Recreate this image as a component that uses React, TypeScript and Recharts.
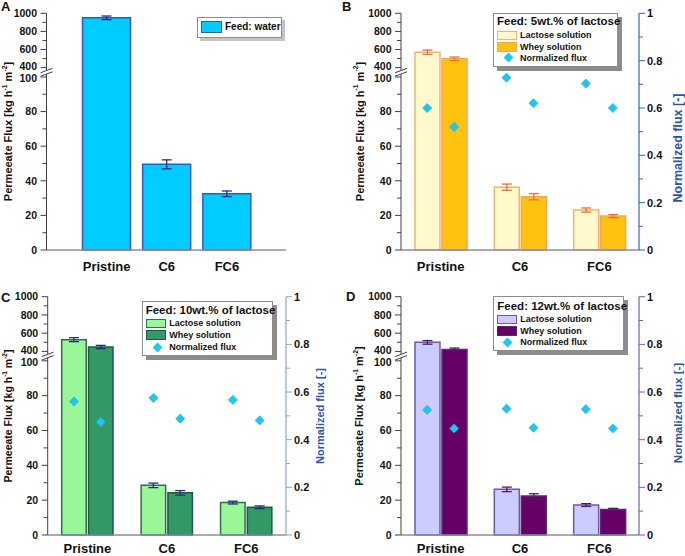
import React from 'react'
import { ComposedChart, Bar, Line, XAxis, YAxis, ErrorBar } from 'recharts'

const categories = ['Pristine', 'C6', 'FC6']

// A: pure water
const waterFlux = [950, 49.5, 32.5]
const waterErr = [20, 2.6, 1.6]

// B: 5 wt.% lactose
const lac5Flux = [570, 36.3, 23.1]
const lac5Err = [24, 1.8, 1.2]
const whey5Flux = [497, 30.8, 19.6]
const whey5Err = [20, 1.8, 0.9]
const lac5Norm = [0.6, 0.728, 0.703]
const whey5Norm = [0.52, 0.62, 0.6]

// C: 10 wt.% lactose
const lac10Flux = [529, 28.5, 18.6]
const lac10Err = [22, 1.3, 0.8]
const whey10Flux = [448, 24.2, 15.9]
const whey10Err = [18, 1.3, 0.8]
const lac10Norm = [0.56, 0.575, 0.567]
const whey10Norm = [0.474, 0.488, 0.481]

// D: 12 wt.% lactose
const lac12Flux = [499, 26.2, 17.2]
const lac12Err = [20, 1.3, 0.8]
const whey12Flux = [422, 22.4, 14.7]
const whey12Err = [15, 1.3, 0.6]
const lac12Norm = [0.525, 0.53, 0.528]
const whey12Norm = [0.447, 0.45, 0.447]

// tick labels
const lowMajor = [0, 20, 40, 60, 80, 100]
const lowMinor = [10, 30, 50, 70, 90]
const highMajor = [400, 600, 800, 1000]
const highMinor = [500, 700, 900]
const normTicks = [0, 0.1, 0.2, 0.3, 0.4, 0.5, 0.6, 0.7, 0.8, 0.9, 1]

const FONT = '"Liberation Sans", Arial, Helvetica, sans-serif'
const DIAMOND = '#1ec6f2'

// broken axis: 0-100 linear, then a gap, then 400-1000 compressed
const LOW_TOP = 100
const HIGH_BOTTOM = 400
const HIGH_TOP = 1000
const BREAK_GAP = 5.4
const HIGH_SPAN = 31.4
const AXIS_MAX = LOW_TOP + BREAK_GAP + HIGH_SPAN

function toAxis(v: number) {
  if (v <= LOW_TOP) return v
  return LOW_TOP + BREAK_GAP + ((v - HIGH_BOTTOM) * HIGH_SPAN) / (HIGH_TOP - HIGH_BOTTOM)
}

type TickDef = { t: number; kind: 'major' | 'minor' | 'break'; label?: string }

const leftTicks: TickDef[] = [
  ...lowMajor.map((v) => ({ t: toAxis(v), kind: 'major' as const, label: String(v) })),
  ...lowMinor.map((v) => ({ t: toAxis(v), kind: 'minor' as const })),
  ...highMajor.map((v) => ({ t: toAxis(v), kind: 'major' as const, label: String(v) })),
  ...highMinor.map((v) => ({ t: toAxis(v), kind: 'minor' as const })),
  { t: LOW_TOP + BREAK_GAP / 2, kind: 'break' as const },
].sort((a, b) => a.t - b.t)

function LeftTick(props: any) {
  const { x, y, payload } = props
  const d = leftTicks.find((k) => Math.abs(k.t - payload.value) < 1e-6)
  if (!d) return null
  const c = '#404040'
  if (d.kind === 'break') {
    return (
      <g>
        <polygon
          points={`${x - 6},${y + 0.5} ${x + 6},${y - 4} ${x + 6},${y - 0.5} ${x - 6},${y + 4}`}
          fill="#fff"
        />
        <line x1={x - 6} y1={y + 0.5} x2={x + 6} y2={y - 4} stroke={c} strokeWidth={1} />
        <line x1={x - 6} y1={y + 4} x2={x + 6} y2={y - 0.5} stroke={c} strokeWidth={1} />
      </g>
    )
  }
  const major = d.kind === 'major'
  // the 400 / 100 pair sits on each side of the break, nudge them apart a little
  const nudge = d.label === '400' ? -1 : d.label === '100' ? 1 : 0
  return (
    <g>
      <line x1={x} y1={y} x2={x - (major ? 6 : 4)} y2={y} stroke={c} strokeWidth={1} />
      {major && (
        <text
          x={x - 9.5}
          y={y + nudge}
          dy="0.36em"
          textAnchor="end"
          fontSize={10.5}
          fontWeight="bold"
          fontFamily={FONT}
          fill="#111"
        >
          {d.label}
        </text>
      )}
    </g>
  )
}

function RightTick(props: any) {
  const { x, y, payload, color } = props
  const v = payload.value as number
  const major = Math.round(v * 10) % 2 === 0
  const label = v === 0 || v === 1 ? String(v) : v.toFixed(1)
  return (
    <g>
      <line x1={x} y1={y} x2={x + (major ? 6 : 4)} y2={y} stroke={color} strokeWidth={1} />
      {major && (
        <text
          x={x + 8}
          y={y}
          dy="0.36em"
          textAnchor="start"
          fontSize={11}
          fontWeight="bold"
          fontFamily={FONT}
          fill="#111"
        >
          {label}
        </text>
      )}
    </g>
  )
}

function CatTick(props: any) {
  const { x, y, payload, labelDy } = props
  return (
    <text x={x} y={y + labelDy} textAnchor="middle" fontSize={13} fontWeight="bold" fontFamily={FONT} fill="#111">
      {payload.value}
    </text>
  )
}

function LeftTitle(props: any) {
  const { px, py, size } = props
  const sup = size * 0.62
  return (
    <text
      x={px}
      y={py}
      transform={`rotate(-90, ${px}, ${py})`}
      textAnchor="middle"
      dominantBaseline="central"
      fontSize={size}
      fontWeight="bold"
      fontFamily={FONT}
      fill="#111"
    >
      Permeeate Flux [kg h
      <tspan dy={-size * 0.38} fontSize={sup}>-1</tspan>
      <tspan dy={size * 0.38}> m</tspan>
      <tspan dy={-size * 0.38} fontSize={sup}>-2</tspan>
      <tspan dy={size * 0.38}>]</tspan>
    </text>
  )
}

function RightTitle(props: any) {
  const { px, py, size } = props
  return (
    <text
      x={px}
      y={py}
      transform={`rotate(-90, ${px}, ${py})`}
      textAnchor="middle"
      dominantBaseline="central"
      fontSize={size}
      fontWeight="bold"
      fontFamily={FONT}
      fill="#2d55a8"
    >
      Normalized flux [-]
    </text>
  )
}

function diamondDot(dx: number) {
  return (p: any) => {
    if (p.cx == null || p.cy == null) return <g key={`dm-${p.index}`} />
    const cx = p.cx + dx
    const cy = p.cy
    const r = 4.6
    return (
      <path
        key={`dm-${p.index}`}
        d={`M${cx},${cy - r}L${cx + r},${cy}L${cx},${cy + r}L${cx - r},${cy}Z`}
        fill={DIAMOND}
        stroke="#16b0e0"
        strokeWidth={0.6}
      />
    )
  }
}

type SeriesDef = {
  flux: number[]
  err: number[]
  fill: string
  stroke: string
  errColor: string
}

type LegendItem = { label: string; kind: 'rect' | 'diamond'; fill: string; stroke?: string; cy: number; h?: number }

type LegendDef = {
  x: number
  y: number
  w: number
  h: number
  shadow: string
  off: number
  title?: string
  titleY?: number
  titleX?: number
  items: LegendItem[]
  swatchX: number
  swatchW: number
  textX: number
  diamondX: number
  itemSize: number
}

type PanelDef = {
  letter: string
  letterX: number
  letterY: number
  left: number
  top: number
  width: number
  height: number
  marginTop: number
  marginRight: number
  marginBottom: number
  leftAxisWidth: number
  rightAxisWidth?: number
  rightAxisColor?: string
  xAxisHeight: number
  labelDy: number
  padLeft: number
  padRight: number
  barSize: number
  barGap: number
  series: SeriesDef[]
  norms?: number[][]
  leftTitle: { x: number; y: number; size: number }
  rightTitle?: { x: number; y: number; size: number }
  legend: LegendDef
}

function buildRows(series: SeriesDef[], norms?: number[][]) {
  return categories.map((cat, i) => {
    const row: Record<string, any> = { cat }
    series.forEach((s, j) => {
      const v = s.flux[i]
      const e = s.err[i]
      row[`v${j}`] = toAxis(v)
      row[`e${j}`] = [toAxis(v) - toAxis(v - e), toAxis(v + e) - toAxis(v)]
    })
    norms?.forEach((n, j) => {
      row[`n${j}`] = n[i]
    })
    return row
  })
}

const panels: PanelDef[] = [
  {
    letter: 'A',
    letterX: 1,
    letterY: 11,
    left: 0,
    top: 0,
    width: 340,
    height: 283,
    marginTop: 13.3,
    marginRight: 54,
    marginBottom: 3,
    leftAxisWidth: 46.5,
    xAxisHeight: 30,
    labelDy: 21,
    padLeft: 30,
    padRight: 29,
    barSize: 48,
    barGap: 2,
    series: [{ flux: waterFlux, err: waterErr, fill: '#00ccff', stroke: '#3a58b8', errColor: '#2a2a8a' }],
    leftTitle: { x: 8, y: 131.5, size: 11 },
    legend: {
      x: 197,
      y: 16.7,
      w: 85,
      h: 21.6,
      shadow: '#c4c4c4',
      off: 3,
      items: [{ label: 'Feed: water', kind: 'rect', fill: '#00ccff', stroke: '#3a58b8', cy: 9.8, h: 12 }],
      swatchX: 3,
      swatchW: 21,
      textX: 27,
      diamondX: 0,
      itemSize: 10,
    },
  },
  {
    letter: 'B',
    letterX: 342,
    letterY: 11,
    left: 340,
    top: 0,
    width: 345,
    height: 283,
    marginTop: 13.3,
    marginRight: 0,
    marginBottom: 3,
    leftAxisWidth: 61,
    rightAxisWidth: 46,
    rightAxisColor: '#3e62b2',
    xAxisHeight: 30,
    labelDy: 21,
    padLeft: 0,
    padRight: 0,
    barSize: 25,
    barGap: 2,
    series: [
      { flux: lac5Flux, err: lac5Err, fill: '#fff9cc', stroke: '#f7b070', errColor: '#e8703a' },
      { flux: whey5Flux, err: whey5Err, fill: '#ffc20e', stroke: '#f2a65a', errColor: '#e8703a' },
    ],
    norms: [lac5Norm, whey5Norm],
    leftTitle: { x: 19.5, y: 131.5, size: 11 },
    rightTitle: { x: 338, y: 148, size: 12.5 },
    legend: {
      x: 493,
      y: 12.7,
      w: 125,
      h: 54,
      shadow: '#8c8c8c',
      off: 4,
      title: 'Feed: 5wt.% of lactose',
      titleY: 7.5,
      titleX: 3,
      items: [
        { label: 'Lactose solution', kind: 'rect', fill: '#fff9cc', stroke: '#f7b070', cy: 21.5, h: 9 },
        { label: 'Whey solution', kind: 'rect', fill: '#ffc20e', stroke: '#f2a65a', cy: 33, h: 10 },
        { label: 'Normalized flux', kind: 'diamond', fill: DIAMOND, cy: 44 },
      ],
      swatchX: 3,
      swatchW: 20,
      textX: 26,
      diamondX: 14,
      itemSize: 9,
    },
  },
  {
    letter: 'C',
    letterX: 1,
    letterY: 302,
    left: 0,
    top: 283,
    width: 340,
    height: 273,
    marginTop: 13.7,
    marginRight: 0,
    marginBottom: 0,
    leftAxisWidth: 47.7,
    rightAxisWidth: 54,
    rightAxisColor: '#86a4d8',
    xAxisHeight: 21,
    labelDy: 18,
    padLeft: 0,
    padRight: 0,
    barSize: 24.5,
    barGap: 2.3,
    series: [
      { flux: lac10Flux, err: lac10Err, fill: '#99f799', stroke: '#2f6f4f', errColor: '#2b2b7a' },
      { flux: whey10Flux, err: whey10Err, fill: '#339966', stroke: '#1f5a3f', errColor: '#2b2b7a' },
    ],
    norms: [lac10Norm, whey10Norm],
    leftTitle: { x: 8, y: 133, size: 10.5 },
    rightTitle: { x: 320, y: 133, size: 11 },
    legend: {
      x: 141.7,
      y: 300.7,
      w: 131,
      h: 55,
      shadow: '#8c8c8c',
      off: 4,
      title: 'Feed: 10wt.% of lactose',
      titleY: 8.5,
      titleX: 3,
      items: [
        { label: 'Lactose solution', kind: 'rect', fill: '#99f799', stroke: '#2f6f4f', cy: 21.8, h: 9 },
        { label: 'Whey solution', kind: 'rect', fill: '#339966', stroke: '#1f5a3f', cy: 33.5, h: 10 },
        { label: 'Normalized flux', kind: 'diamond', fill: DIAMOND, cy: 45.5 },
      ],
      swatchX: 3,
      swatchW: 20,
      textX: 26.5,
      diamondX: 15,
      itemSize: 9,
    },
  },
  {
    letter: 'D',
    letterX: 346,
    letterY: 301,
    left: 340,
    top: 283,
    width: 345,
    height: 273,
    marginTop: 13.7,
    marginRight: 0,
    marginBottom: 0,
    leftAxisWidth: 61,
    rightAxisWidth: 46,
    rightAxisColor: '#6e62a0',
    xAxisHeight: 21,
    labelDy: 18,
    padLeft: 0,
    padRight: 0,
    barSize: 25,
    barGap: 2,
    series: [
      { flux: lac12Flux, err: lac12Err, fill: '#ccccff', stroke: '#7455aa', errColor: '#4a1f5f' },
      { flux: whey12Flux, err: whey12Err, fill: '#660066', stroke: '#4f2d6e', errColor: '#4a1f5f' },
    ],
    norms: [lac12Norm, whey12Norm],
    leftTitle: { x: 19, y: 133, size: 11 },
    rightTitle: { x: 338, y: 130, size: 11.5 },
    legend: {
      x: 493.3,
      y: 295.7,
      w: 131,
      h: 55.3,
      shadow: '#8c8c8c',
      off: 4,
      title: 'Feed: 12wt.% of lactose',
      titleY: 9.5,
      titleX: 3,
      items: [
        { label: 'Lactose solution', kind: 'rect', fill: '#ccccff', stroke: '#7455aa', cy: 22.5, h: 9 },
        { label: 'Whey solution', kind: 'rect', fill: '#660066', stroke: '#4f2d6e', cy: 34.5, h: 10 },
        { label: 'Normalized flux', kind: 'diamond', fill: DIAMOND, cy: 45.8 },
      ],
      swatchX: 3,
      swatchW: 20,
      textX: 26,
      diamondX: 13.5,
      itemSize: 9,
    },
  },
]

function LegendBox({ lg }: { lg: LegendDef }) {
  return (
    <div
      style={{
        position: 'absolute',
        left: lg.x,
        top: lg.y,
        width: lg.w,
        height: lg.h,
        boxSizing: 'border-box',
        background: '#fff',
        border: '1px solid #8c8c8c',
        boxShadow: `${lg.off}px ${lg.off}px 0 ${lg.shadow}`,
        fontFamily: FONT,
        fontWeight: 'bold',
        color: '#111',
      }}
    >
      {lg.title && (
        <div
          style={{
            position: 'absolute',
            left: lg.titleX,
            top: (lg.titleY ?? 0) - 7,
            fontSize: 11.5,
            lineHeight: '14px',
            whiteSpace: 'nowrap',
          }}
        >
          {lg.title}
        </div>
      )}
      {lg.items.map((it) => (
        <React.Fragment key={it.label}>
          {it.kind === 'rect' ? (
            <div
              style={{
                position: 'absolute',
                left: lg.swatchX,
                top: it.cy - (it.h ?? 10) / 2,
                width: lg.swatchW,
                height: it.h ?? 10,
                boxSizing: 'border-box',
                background: it.fill,
                border: `1.5px solid ${it.stroke}`,
              }}
            />
          ) : (
            <div
              style={{
                position: 'absolute',
                left: lg.diamondX - 3.5,
                top: it.cy - 3.5,
                width: 7,
                height: 7,
                background: it.fill,
                transform: 'rotate(45deg)',
              }}
            />
          )}
          <div
            style={{
              position: 'absolute',
              left: lg.textX,
              top: it.cy - 7,
              fontSize: lg.itemSize,
              lineHeight: '14px',
              whiteSpace: 'nowrap',
            }}
          >
            {it.label}
          </div>
        </React.Fragment>
      ))}
    </div>
  )
}

function Panel({ p }: { p: PanelDef }) {
  const rows = buildRows(p.series, p.norms)
  const shift = (p.barSize + p.barGap) / 2
  return (
    <div style={{ position: 'absolute', left: p.left, top: p.top }}>
      <ComposedChart
        width={p.width}
        height={p.height}
        data={rows}
        barGap={p.barGap}
        margin={{ top: p.marginTop, right: p.marginRight, bottom: p.marginBottom, left: 0 }}
      >
        <XAxis
          dataKey="cat"
          type="category"
          interval={0}
          height={p.xAxisHeight}
          padding={{ left: p.padLeft, right: p.padRight }}
          tickLine={false}
          tickSize={0}
          tickMargin={0}
          axisLine={{ stroke: '#8c8ca0', strokeWidth: 1.3 }}
          tick={<CatTick labelDy={p.labelDy} />}
        />
        <YAxis
          yAxisId="left"
          type="number"
          domain={[0, AXIS_MAX]}
          ticks={leftTicks.map((d) => d.t)}
          interval={0}
          width={p.leftAxisWidth}
          tickLine={false}
          tickSize={0}
          tickMargin={0}
          axisLine={{ stroke: '#404040', strokeWidth: 1 }}
          tick={<LeftTick />}
          label={<LeftTitle px={p.leftTitle.x} py={p.leftTitle.y} size={p.leftTitle.size} />}
        />
        {p.rightAxisWidth && (
          <YAxis
            yAxisId="right"
            orientation="right"
            type="number"
            domain={[0, 1]}
            ticks={normTicks}
            interval={0}
            width={p.rightAxisWidth}
            tickLine={false}
            tickSize={0}
            tickMargin={0}
            axisLine={{ stroke: p.rightAxisColor, strokeWidth: 1.2 }}
            tick={<RightTick color={p.rightAxisColor} />}
            label={
              p.rightTitle ? (
                <RightTitle px={p.rightTitle.x} py={p.rightTitle.y} size={p.rightTitle.size} />
              ) : undefined
            }
          />
        )}
        {p.series.map((s, j) => (
          <Bar
            key={`bar-${j}`}
            yAxisId="left"
            dataKey={`v${j}`}
            barSize={p.barSize}
            fill={s.fill}
            stroke={s.stroke}
            strokeWidth={1.5}
            isAnimationActive={false}
          >
            <ErrorBar dataKey={`e${j}`} width={5} stroke={s.errColor} strokeWidth={1.3} direction="y" />
          </Bar>
        ))}
        {p.norms?.map((_, j) => (
          <Line
            key={`norm-${j}`}
            yAxisId="right"
            dataKey={`n${j}`}
            stroke="none"
            legendType="none"
            activeDot={false}
            dot={diamondDot(j === 0 ? -shift : shift)}
            isAnimationActive={false}
          />
        ))}
      </ComposedChart>
    </div>
  )
}

export default function App() {
  return (
    <div
      style={{
        position: 'absolute',
        left: 0,
        top: 0,
        width: 685,
        height: 556,
        background: '#fff',
        overflow: 'hidden',
        fontFamily: FONT,
      }}
    >
      {panels.map((p) => (
        <Panel key={p.letter} p={p} />
      ))}
      {panels.map((p) => (
        <LegendBox key={`lg-${p.letter}`} lg={p.legend} />
      ))}
      {panels.map((p) => (
        <div
          key={`letter-${p.letter}`}
          style={{
            position: 'absolute',
            left: p.letterX,
            top: p.letterY - 11,
            fontSize: 13,
            lineHeight: '13px',
            fontWeight: 'bold',
            color: '#111',
          }}
        >
          {p.letter}
        </div>
      ))}
    </div>
  )
}
